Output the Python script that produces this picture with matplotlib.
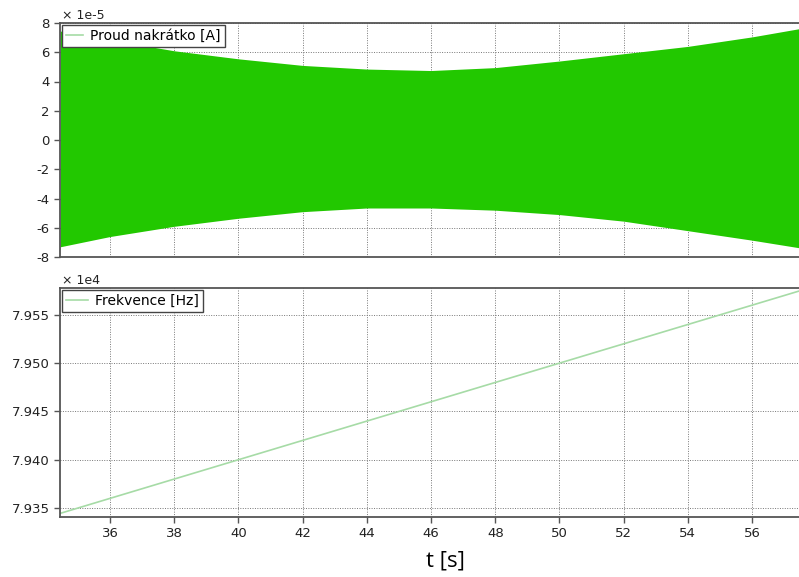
import numpy as np
import matplotlib.pyplot as plt
from matplotlib.lines import Line2D
from matplotlib.ticker import FuncFormatter, FixedLocator

# envelope of the short-circuit current (x 1e-5 A)
t_env = [34.45, 36, 38, 40, 42, 44, 46, 48, 50, 52, 54, 56, 57.7]
env_upper = [7.45, 6.85, 6.1, 5.55, 5.1, 4.85, 4.75, 4.95, 5.4, 5.9, 6.4, 7.05, 7.7]
env_lower = [-7.3, -6.6, -5.9, -5.35, -4.9, -4.65, -4.65, -4.8, -5.1, -5.55, -6.2, -6.85, -7.45]

# frequency (x 1e4 Hz)
t_freq = [34.45, 57.7]
freq = [7.93445, 7.95770]

xticks = [36, 38, 40, 42, 44, 46, 48, 50, 52, 54, 56]
yticks_top = [-8, -6, -4, -2, 0, 2, 4, 6, 8]
yticks_bot = [7.935, 7.940, 7.945, 7.950, 7.955]

xlim = (34.44, 57.65)

fig = plt.figure(figsize=(7.99, 5.77), dpi=100)
W, H = 799, 577
ax1 = fig.add_axes([60 / W, 1 - 257 / H, 745 / W, 234 / H])
ax2 = fig.add_axes([60 / W, 1 - 517 / H, 745 / W, 229 / H])

green = '#22c800'
pale = '#a6dba6'
gridkw = dict(color='#777777', linestyle=(0, (1, 1.5)), linewidth=0.7)

for ax in (ax1, ax2):
    ax.set_xlim(*xlim)
    ax.xaxis.set_major_locator(FixedLocator(xticks))
    ax.grid(True, **gridkw)
    ax.set_axisbelow(True)
    for s in ax.spines.values():
        s.set_color('#555555')
        s.set_linewidth(1.3)
    ax.spines['right'].set_visible(False)
    ax.tick_params(direction='out', length=4, width=1, color='#555555',
                   labelsize=9.5, labelcolor='#222222')

# top: current
ax1.fill_between(t_env, env_lower, env_upper, color=green, linewidth=0, zorder=2)
ax1.set_ylim(-8, 8)
ax1.yaxis.set_major_locator(FixedLocator(yticks_top))
ax1.yaxis.set_major_formatter(FuncFormatter(lambda v, p: f'{v:.0f}'.replace('\u2212', '-')))
ax1.tick_params(axis='x', bottom=False, labelbottom=False)
ax1.text(0.003, 1.005, '\u00d7 1e-5', transform=ax1.transAxes, fontsize=9,
         color='#222222', va='bottom', ha='left')
leg1 = ax1.legend([Line2D([], [], color=pale, lw=1.2)], ['Proud nakrátko [A]'],
                  loc='upper left', fontsize=10, frameon=True, fancybox=False,
                  borderaxespad=0.15, handlelength=1.2, handletextpad=0.5,
                  borderpad=0.3)
leg1.get_frame().set_edgecolor('#444444')
leg1.get_frame().set_linewidth(1.0)
leg1.get_frame().set_alpha(1)

# bottom: frequency
ax2.plot(t_freq, freq, color=pale, lw=1.2, zorder=2)
ax2.set_ylim(7.93407, 7.95778)
ax2.yaxis.set_major_locator(FixedLocator(yticks_bot))
ax2.yaxis.set_major_formatter(FuncFormatter(lambda v, p: f'{v:.3f}'))
ax2.text(0.003, 1.005, '\u00d7 1e4', transform=ax2.transAxes, fontsize=9,
         color='#222222', va='bottom', ha='left')
leg2 = ax2.legend(['Frekvence [Hz]'], loc='upper left', fontsize=10,
                  frameon=True, fancybox=False, borderaxespad=0.15,
                  handlelength=1.6, handletextpad=0.5, borderpad=0.3)
leg2.get_frame().set_edgecolor('#444444')
leg2.get_frame().set_linewidth(1.0)
leg2.get_frame().set_alpha(1)
ax2.set_xlabel('t [s]', family='Open Sans', fontsize=16)
ax2.xaxis.set_label_coords(0.518, -0.145)

fig.savefig('out.png', dpi=100)
